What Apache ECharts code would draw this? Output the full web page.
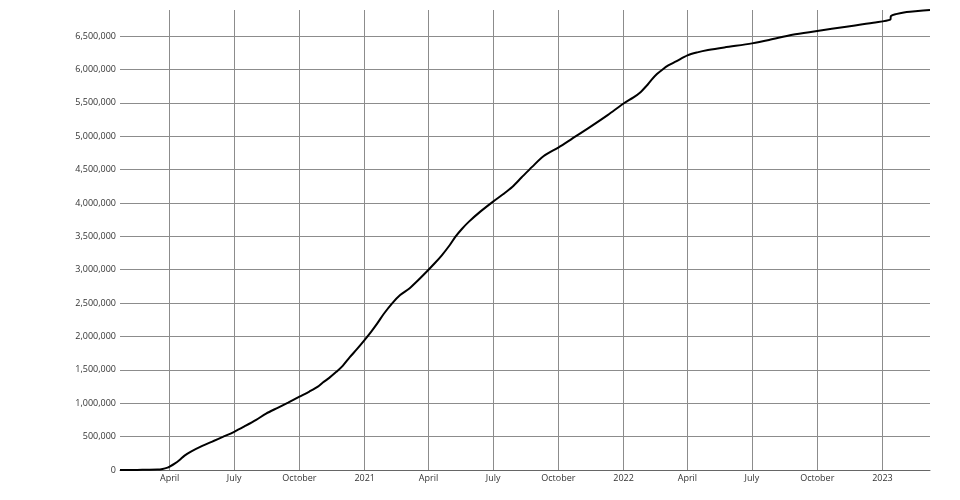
<!DOCTYPE html>
<html>
<head>
<meta charset="utf-8">
<script src="https://cdn.jsdelivr.net/npm/echarts@6/dist/echarts.min.js"></script>
<style>
html,body{margin:0;padding:0;background:#fff;}
#chart{width:960px;height:500px;}
</style>
</head>
<body>
<div id="chart"></div>
<script>
const dates = [
"2020-01-22","2020-02-15","2020-03-01","2020-03-15","2020-03-22","2020-03-29","2020-04-01","2020-04-08",
"2020-04-15","2020-04-22","2020-05-01","2020-05-17","2020-06-01","2020-06-15","2020-07-01","2020-07-15",
"2020-08-01","2020-08-15","2020-09-01","2020-09-15","2020-10-01","2020-10-15","2020-10-27","2020-11-03",
"2020-11-12","2020-11-22","2020-12-01","2020-12-11","2020-12-21","2021-01-01","2021-01-10","2021-01-19",
"2021-01-28","2021-02-09","2021-02-20","2021-03-05","2021-03-18","2021-04-01","2021-04-10","2021-04-20",
"2021-05-01","2021-05-09","2021-05-18","2021-05-28","2021-06-13","2021-07-01","2021-07-15","2021-07-28",
"2021-08-10","2021-08-25","2021-09-10","2021-10-01","2021-10-20","2021-11-15","2021-12-10","2022-01-01",
"2022-01-15","2022-01-24","2022-02-02","2022-02-09","2022-02-17","2022-02-25","2022-03-05","2022-03-16",
"2022-04-01","2022-04-15","2022-04-30","2022-05-23","2022-07-01","2022-07-25","2022-08-27","2022-10-01",
"2022-11-11","2022-12-19","2023-01-12","2023-01-13","2023-01-20","2023-02-04","2023-02-20","2023-03-09"
];
const deaths = [
0,1700,3000,6500,16000,35000,50000,95000,
150000,215000,275000,360000,430000,495000,572000,650000,
750000,845000,935000,1010000,1098000,1175000,1248000,1310000,
1380000,1470000,1560000,1690000,1810000,1950000,2070000,2200000,
2340000,2500000,2620000,2720000,2850000,3000000,3100000,3220000,
3370000,3495000,3610000,3720000,3870000,4020000,4130000,4240000,
4380000,4540000,4700000,4830000,4960000,5140000,5320000,5490000,
5580000,5650000,5750000,5840000,5930000,6000000,6060000,6120000,
6210000,6255000,6290000,6330000,6390000,6440000,6520000,6575000,
6640000,6700000,6745000,6800000,6828000,6860000,6876000,6890000
];
const xMin = "2020-01-22";
const xMax = "2023-03-09";
const yMax = 6890000;
const yStep = 500000;

const chart = echarts.init(document.getElementById('chart'), null, {renderer:'canvas'});
const font = '"Open Sans", "Noto Sans", sans-serif';
const day = 24*3600*1000;
chart.setOption({
  animation:false,
  backgroundColor:'#fff',
  grid:{left:120,right:30,top:10,bottom:30,containLabel:false},
  xAxis:{
    type:'time',
    min:xMin, max:xMax,
    minInterval: 88*day, maxInterval: 93*day,
    axisLine:{show:true,lineStyle:{color:'#666',width:1}},
    axisTick:{show:false},
    splitLine:{show:true,showMinLine:false,showMaxLine:false,lineStyle:{color:'#8c8c8c',width:1}},
    axisLabel:{
      color:'#333',fontFamily:font,fontSize:9,margin:4,
      showMinLabel:false,showMaxLabel:false,
      formatter:{year:'{yyyy}',month:'{MMMM}',day:'{MMMM}'}
    }
  },
  yAxis:{
    type:'value',min:0,max:yMax,interval:yStep,
    axisLine:{show:false},axisTick:{show:false},
    splitLine:{show:true,showMaxLine:false,lineStyle:{color:'#8c8c8c',width:1}},
    axisLabel:{color:'#333',fontFamily:font,fontSize:9,margin:4,showMaxLabel:false,
      formatter:v=>v.toLocaleString('en-US')}
  },
  series:[{
    type:'line',
    data:dates.map((d,i)=>[d,deaths[i]]),
    showSymbol:false,
    smooth:0.3,
    lineStyle:{color:'#000',width:2},
    itemStyle:{color:'#000'}
  }]
});
</script>
</body>
</html>
